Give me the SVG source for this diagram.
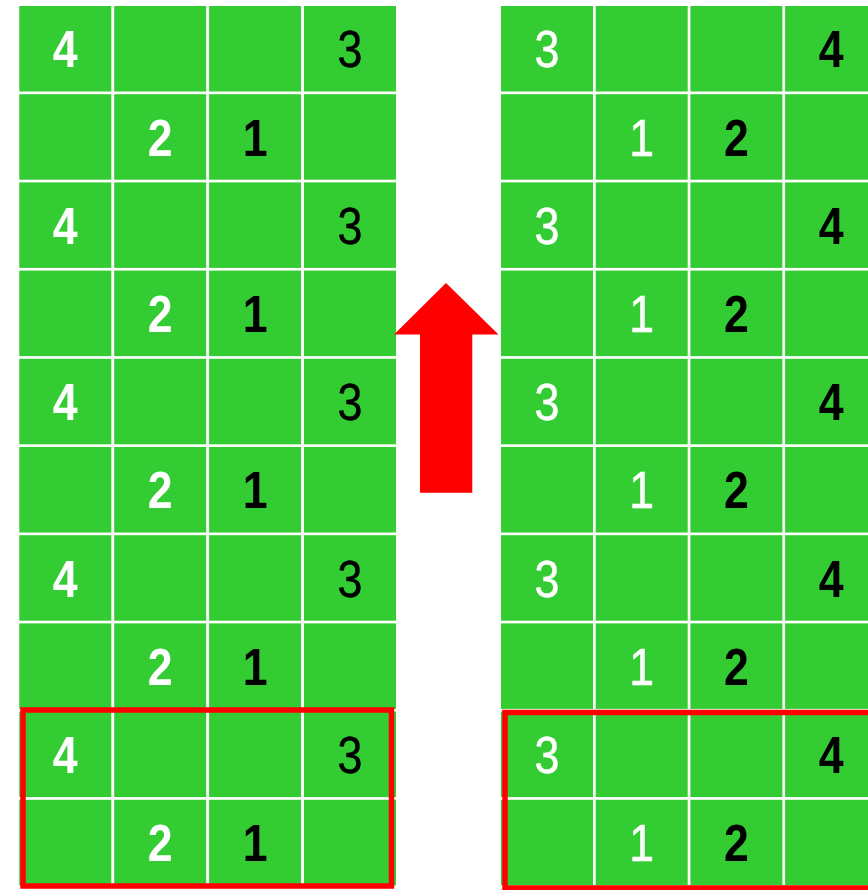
<svg xmlns="http://www.w3.org/2000/svg" width="868" height="890" viewBox="0 0 868 890">
<style>
.c{fill:#33CC33}
.t{font-family:"Liberation Sans",Arial,sans-serif;font-size:52px;text-anchor:middle}
.w{fill:#fff}
.k{fill:#000}
.b{font-weight:bold}
.m{stroke-width:0.5px}
.w.m{stroke:#fff}
.k.m{stroke:#000}
.hl{fill:none;stroke:#f00;stroke-width:5.5}
</style>
<defs>
<g id="rowL">
<rect class="c" x="19.3" y="0" width="92" height="85.5"/>
<rect class="c" x="114.2" y="0" width="92" height="85.5"/>
<rect class="c" x="209.1" y="0" width="92" height="85.5"/>
<rect class="c" x="304" y="0" width="92" height="85.5"/>
</g>
<g id="rowR">
<rect class="c" x="501" y="0" width="92" height="85.5"/>
<rect class="c" x="595.7" y="0" width="92" height="85.5"/>
<rect class="c" x="690.4" y="0" width="92" height="85.5"/>
<rect class="c" x="785.1" y="0" width="92" height="85.5"/>
</g>
<g id="txtLa" transform="scale(0.86,1)">
<text class="t w b" x="75.93" y="61.5">4</text>
<text class="t k m" x="406.98" y="61.5">3</text>
</g>
<g id="txtLb" transform="scale(0.86,1)">
<text class="t w b" x="186.28" y="61.5">2</text>
<text class="t k b" x="296.63" y="61.5">1</text>
</g>
<g id="txtRa" transform="scale(0.86,1)">
<text class="t w m" x="636.05" y="61.5">3</text>
<text class="t k b" x="966.4" y="61.5">4</text>
</g>
<g id="txtRb" transform="scale(0.86,1)">
<text class="t w m" x="746.16" y="61.5">1</text>
<text class="t k b" x="856.28" y="61.5">2</text>
</g>
</defs>
<rect width="868" height="890" fill="#fff"/>
<g id="leftGrid">
<g id="L0" transform="translate(0,6)"><use href="#rowL"/><use href="#txtLa"/></g>
<g id="L1" transform="translate(0,94.2)"><use href="#rowL"/><use href="#txtLb"/></g>
<g id="L2" transform="translate(0,182.4)"><use href="#rowL"/><use href="#txtLa"/></g>
<g id="L3" transform="translate(0,270.6)"><use href="#rowL"/><use href="#txtLb"/></g>
<g id="L4" transform="translate(0,358.8)"><use href="#rowL"/><use href="#txtLa"/></g>
<g id="L5" transform="translate(0,447)"><use href="#rowL"/><use href="#txtLb"/></g>
<g id="L6" transform="translate(0,535.2)"><use href="#rowL"/><use href="#txtLa"/></g>
<g id="L7" transform="translate(0,623.4)"><use href="#rowL"/><use href="#txtLb"/></g>
<g id="L8" transform="translate(0,711.6)"><use href="#rowL"/><use href="#txtLa"/></g>
<g id="L9" transform="translate(0,799.8)"><use href="#rowL"/><use href="#txtLb"/></g>
</g>
<g id="rightGrid">
<g id="R0" transform="translate(0,6)"><use href="#rowR"/><use href="#txtRa"/></g>
<g id="R1" transform="translate(0,94.2)"><use href="#rowR"/><use href="#txtRb"/></g>
<g id="R2" transform="translate(0,182.4)"><use href="#rowR"/><use href="#txtRa"/></g>
<g id="R3" transform="translate(0,270.6)"><use href="#rowR"/><use href="#txtRb"/></g>
<g id="R4" transform="translate(0,358.8)"><use href="#rowR"/><use href="#txtRa"/></g>
<g id="R5" transform="translate(0,447)"><use href="#rowR"/><use href="#txtRb"/></g>
<g id="R6" transform="translate(0,535.2)"><use href="#rowR"/><use href="#txtRa"/></g>
<g id="R7" transform="translate(0,623.4)"><use href="#rowR"/><use href="#txtRb"/></g>
<g id="R8" transform="translate(0,711.6)"><use href="#rowR"/><use href="#txtRa"/></g>
<g id="R9" transform="translate(0,799.8)"><use href="#rowR"/><use href="#txtRb"/></g>
</g>
<g id="highlights">
<rect class="hl" x="23" y="710" width="368.5" height="176"/>
<rect class="hl" x="505" y="712.5" width="380" height="175.5"/>
</g>
<g id="connectors">
<polygon fill="#f00" points="446,283 498.5,334.5 472.3,334.5 472.3,492.7 420,492.7 420,334.5 394,334.5"/>
</g>
</svg>
